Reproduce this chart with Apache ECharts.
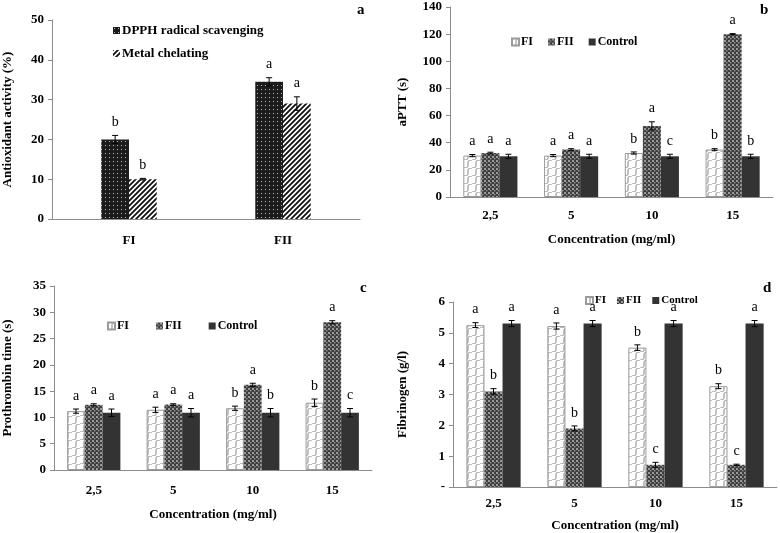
<!DOCTYPE html>
<html><head><meta charset="utf-8">
<script src="https://cdn.jsdelivr.net/npm/echarts@6/dist/echarts.min.js"></script>
<style>html,body{margin:0;padding:0;background:#fff}#c{width:780px;height:533px}</style>
</head><body><div id="c"></div>
<script>
// ---------- DATA ----------
const catA = ['FI', 'FII'];
const dpph = [20, 34.5];
const dpphErr = [1.0, 1.0];
const dpphLet = ['b', 'a'];
const metal = [10, 29];
const metalErr = [0.2, 1.7];
const metalLet = ['b', 'a'];

const concCats = ['2,5', '5', '10', '15'];
// aPTT (s)
const apttFI = [30.5, 30.5, 32.4, 35];
const apttFIErr = [0.8, 0.8, 0.8, 0.6];
const apttFILet = ['a', 'a', 'b', 'b'];
const apttFII = [32.4, 35, 52.4, 120];
const apttFIIErr = [0.6, 0.6, 3, 0.4];
const apttFIILet = ['a', 'a', 'a', 'a'];
const apttCtl = [30, 30, 30, 30];
const apttCtlErr = [1.5, 1.5, 1.5, 1.5];
const apttCtlLet = ['a', 'a', 'c', 'b'];
// Prothrombin time (s)
const ptFI = [11.2, 11.45, 11.75, 12.8];
const ptFIErr = [0.4, 0.5, 0.4, 0.7];
const ptFILet = ['a', 'a', 'b', 'b'];
const ptFII = [12.4, 12.45, 16.2, 28.1];
const ptFIIErr = [0.2, 0.15, 0.3, 0.3];
const ptFIILet = ['a', 'a', 'a', 'a'];
const ptCtl = [10.9, 10.9, 10.9, 10.9];
const ptCtlErr = [0.7, 0.8, 0.8, 0.8];
const ptCtlLet = ['a', 'a', 'b', 'c'];
// Fibrinogen (g/l)
const fbFI = [5.25, 5.22, 4.52, 3.27];
const fbFIErr = [0.08, 0.1, 0.09, 0.08];
const fbFILet = ['a', 'a', 'b', 'b'];
const fbFII = [3.1, 1.9, 0.72, 0.72];
const fbFIIErr = [0.09, 0.08, 0.08, 0.02];
const fbFIILet = ['b', 'b', 'c', 'c'];
const fbCtl = [5.3, 5.3, 5.3, 5.3];
const fbCtlErr = [0.1, 0.1, 0.1, 0.1];
const fbCtlLet = ['a', 'a', 'a', 'a'];

// ---------- PATTERNS ----------
function tile(w, h, draw) {
  const c = document.createElement('canvas'); c.width = w; c.height = h;
  draw(c.getContext('2d')); return { image: c, repeat: 'repeat' };
}
const patDots = tile(4, 4, g => {
  g.fillStyle = '#1c1c1c'; g.fillRect(0, 0, 4, 4);
  g.fillStyle = '#b8b8b8'; g.fillRect(1, 1, 1, 1);
});
const patStripes = tile(5, 5, g => {
  g.fillStyle = '#fff'; g.fillRect(0, 0, 5, 5);
  g.strokeStyle = '#111'; g.lineWidth = 1.8;
  g.beginPath();
  g.moveTo(-1, 6); g.lineTo(6, -1);
  g.moveTo(-1, 1); g.lineTo(1, -1);
  g.moveTo(4, 6); g.lineTo(6, 4);
  g.stroke();
});
const W = 8;
const patWave = tile(W, W, g => {
  g.fillStyle = '#fff'; g.fillRect(0, 0, W, W);
  g.strokeStyle = '#7a7a7a'; g.lineWidth = 1;
  for (const off of [-W, 0, W]) {
    g.beginPath();
    for (let k = 0; k <= 20; k++) {
      const t = k / 20;
      const bx = t * W + off, by = W - t * W;
      const s = Math.sin(2 * Math.PI * t) * 1.9;
      const x = bx + s * 0.707, y = by + s * 0.707;
      if (k === 0) g.moveTo(x, y); else g.lineTo(x, y);
    }
    g.stroke();
  }
});
const patChk = tile(4, 4, g => {
  g.fillStyle = '#3e3e3e'; g.fillRect(0, 0, 4, 4);
  g.fillStyle = '#9a9a9a'; g.fillRect(0, 0, 2, 2); g.fillRect(2, 2, 1.4, 1.4);
});
const ctlColor = '#333333';

// ---------- HELPERS ----------
const FONT = 'Liberation Serif';
const axisCol = '#8c8c8c';

function barS(name, idx, data, color, gap, border) {
  return {
    name, type: 'bar', xAxisIndex: idx, yAxisIndex: idx, data,
    barGap: '0%', barCategoryGap: gap,
    itemStyle: { color, borderColor: border || 'transparent', borderWidth: border ? 1 : 0 },
    emphasis: { disabled: true }
  };
}
function errS(idx, vals, errs, lets, sIdx, n, gapFrac) {
  return {
    type: 'custom', xAxisIndex: idx, yAxisIndex: idx, z: 5, silent: true,
    data: vals.map((v, i) => [i, v, errs[i]]),
    renderItem: (params, api) => {
      const c = api.value(0), v = api.value(1), e = api.value(2);
      const band = api.size([1, 0])[0];
      const bw = band * (1 - gapFrac) / n;
      const cx = api.coord([c, 0])[0] - band * (1 - gapFrac) / 2 + bw * (sIdx + 0.5);
      const yT = api.coord([c, v + e])[1], yB = api.coord([c, v - e])[1];
      const cap = 3;
      const st = { stroke: '#000', lineWidth: 1 };
      return {
        type: 'group', children: [
          { type: 'line', shape: { x1: cx, y1: yT, x2: cx, y2: yB }, style: st },
          { type: 'line', shape: { x1: cx - cap, y1: yT, x2: cx + cap, y2: yT }, style: st },
          { type: 'line', shape: { x1: cx - cap, y1: yB, x2: cx + cap, y2: yB }, style: st },
          { type: 'text', x: cx, y: yT - 13, style: { text: lets[params.dataIndex], align: 'center', verticalAlign: 'middle', font: 'normal 14px "Liberation Serif"', fill: '#000' } }
        ]
      };
    }
  };
}
function xAx(idx, data, name, nameGap, margin) {
  return {
    type: 'category', gridIndex: idx, data,
    name, nameLocation: 'middle', nameGap,
    nameTextStyle: { fontFamily: FONT, fontWeight: 'bold', fontSize: 13, color: '#000' },
    axisLine: { lineStyle: { color: axisCol } },
    axisTick: { lineStyle: { color: axisCol }, length: 5 },
    axisLabel: { fontFamily: FONT, fontWeight: 'bold', fontSize: 13, color: '#000', margin }
  };
}
function yAx(idx, max, interval, name, nameGap, fmt) {
  return {
    type: 'value', gridIndex: idx, min: 0, max, interval,
    name, nameLocation: 'middle', nameGap, nameRotate: 90,
    nameTextStyle: { fontFamily: FONT, fontWeight: 'bold', fontSize: 13, color: '#000' },
    axisLine: { show: true, lineStyle: { color: axisCol } },
    axisTick: { show: true, lineStyle: { color: axisCol }, length: 4 },
    splitLine: { show: false },
    axisLabel: { fontFamily: FONT, fontWeight: 'bold', fontSize: 13, color: '#000', margin: 8, formatter: fmt }
  };
}
function leg(data, left, top, orient, itemGap, fontSize) {
  return {
    data, left, top, orient, itemGap, itemWidth: 7, itemHeight: 7, icon: 'rect',
    selectedMode: false,
    textStyle: { fontFamily: FONT, fontWeight: 'bold', fontSize, color: '#000', padding: [0, 0, 0, -3] }
  };
}
function panelLabel(text, left, top) {
  return { text, left, top, textStyle: { fontFamily: FONT, fontWeight: 'bold', fontSize: 15, color: '#000' } };
}

const gA = 0.64, gB = 0.33;

const option = {
  animation: false,
  backgroundColor: '#fff',
  title: [panelLabel('a', 352, -2), panelLabel('b', 755, -2), panelLabel('c', 355, 276), panelLabel('d', 758, 276)],
  legend: [
    leg(['DPPH radical scavenging', 'Metal chelating'], 108, 19, 'vertical', 10, 13),
    leg(['FI', 'FII', 'Control'], 506, 31, 'horizontal', 15, 12),
    leg(['FI', 'FII', 'Control'], 102, 315, 'horizontal', 27, 12),
    leg(['FI', 'FII', 'Control'], 580, 290, 'horizontal', 11, 11)
  ],
  grid: [
    { left: 52, right: 420, top: 20, bottom: 314 },
    { left: 450, right: 7, top: 7, bottom: 336 },
    { left: 50, right: 408, top: 286, bottom: 63 },
    { left: 453, right: 3, top: 302, bottom: 46 }
  ],
  xAxis: [
    xAx(0, catA, '', 20, 15),
    xAx(1, concCats, 'Concentration (mg/ml)', 36, 12),
    xAx(2, concCats, 'Concentration (mg/ml)', 38, 14),
    xAx(3, concCats, 'Concentration (mg/ml)', 32, 10)
  ],
  yAxis: [
    yAx(0, 50, 10, 'Antioxidant activity (%)', 38),
    yAx(1, 140, 20, 'aPTT (s)', 41),
    yAx(2, 35, 5, 'Prothrombin time (s)', 40),
    yAx(3, 6, 1, 'Fibrinogen (g/l)', 44, v => v === 0 ? '-' : String(v))
  ],
  series: [
    barS('DPPH radical scavenging', 0, dpph, patDots, '64%'),
    barS('Metal chelating', 0, metal, patStripes, '64%'),
    errS(0, dpph, dpphErr, dpphLet, 0, 2, gA),
    errS(0, metal, metalErr, metalLet, 1, 2, gA),

    barS('FI', 1, apttFI, patWave, '33%', '#9a9a9a'),
    barS('FII', 1, apttFII, patChk, '33%'),
    barS('Control', 1, apttCtl, ctlColor, '33%'),
    errS(1, apttFI, apttFIErr, apttFILet, 0, 3, gB),
    errS(1, apttFII, apttFIIErr, apttFIILet, 1, 3, gB),
    errS(1, apttCtl, apttCtlErr, apttCtlLet, 2, 3, gB),

    barS('FI', 2, ptFI, patWave, '33%', '#9a9a9a'),
    barS('FII', 2, ptFII, patChk, '33%'),
    barS('Control', 2, ptCtl, ctlColor, '33%'),
    errS(2, ptFI, ptFIErr, ptFILet, 0, 3, gB),
    errS(2, ptFII, ptFIIErr, ptFIILet, 1, 3, gB),
    errS(2, ptCtl, ptCtlErr, ptCtlLet, 2, 3, gB),

    barS('FI', 3, fbFI, patWave, '33%', '#9a9a9a'),
    barS('FII', 3, fbFII, patChk, '33%'),
    barS('Control', 3, fbCtl, ctlColor, '33%'),
    errS(3, fbFI, fbFIErr, fbFILet, 0, 3, gB),
    errS(3, fbFII, fbFIIErr, fbFIILet, 1, 3, gB),
    errS(3, fbCtl, fbCtlErr, fbCtlLet, 2, 3, gB)
  ]
};

const chart = echarts.init(document.getElementById('c'), null, { renderer: 'canvas' });
chart.setOption(option);
</script>
</body></html>
